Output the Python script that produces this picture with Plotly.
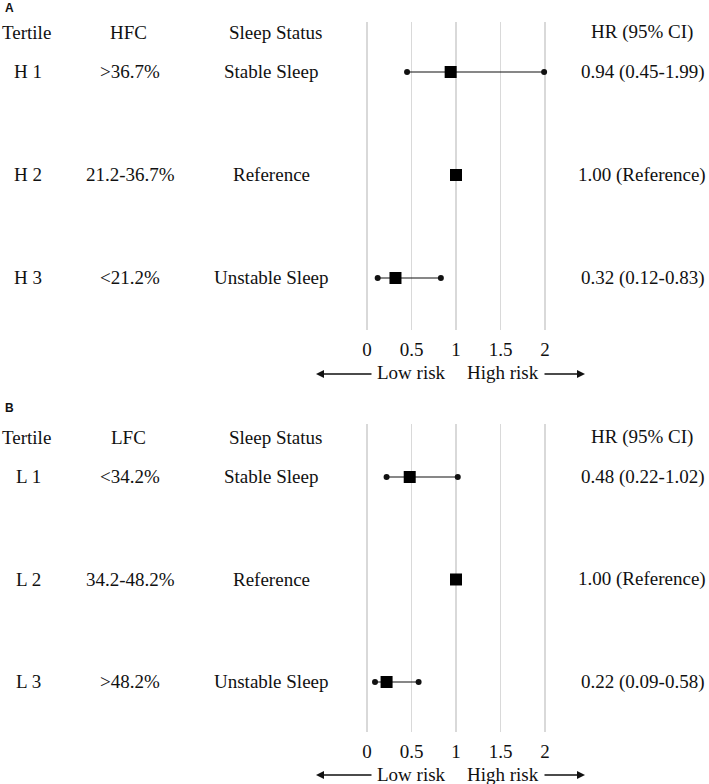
import plotly.graph_objects as go

W, H = 709, 784

# ---------------- data ----------------
tertile_a = ["H 1", "H 2", "H 3"]
hfc = [">36.7%", "21.2-36.7%", "<21.2%"]
status_a = ["Stable Sleep", "Reference", "Unstable Sleep"]
hr_a = [0.94, 1.00, 0.32]
lo_a = [0.45, None, 0.12]
hi_a = [1.99, None, 0.83]
hrtxt_a = ["0.94 (0.45-1.99)", "1.00 (Reference)", "0.32 (0.12-0.83)"]

tertile_b = ["L 1", "L 2", "L 3"]
lfc = ["<34.2%", "34.2-48.2%", ">48.2%"]
status_b = ["Stable Sleep", "Reference", "Unstable Sleep"]
hr_b = [0.48, 1.00, 0.22]
lo_b = [0.22, None, 0.09]
hi_b = [1.02, None, 0.58]
hrtxt_b = ["0.48 (0.22-1.02)", "1.00 (Reference)", "0.22 (0.09-0.58)"]

rows = [1, 2, 3]
tick_vals = [0, 0.5, 1, 1.5, 2]
tick_text = ["0", "0.5", "1", "1.5", "2"]

FONT = "Liberation Serif, Times New Roman, serif"
FS = 19

def py(px):
    return 1 - px / H

def pxx(px):
    return px / W

fig = go.Figure()

def add_panel(hr, lo, hi, xa, ya):
    em = [0 if l is None else h - l for h, l in zip(hr, lo)]
    ep = [0 if u is None else u - h for h, u in zip(hr, hi)]
    # CI line
    fig.add_trace(go.Scatter(
        x=hr, y=rows, mode="markers", xaxis=xa, yaxis=ya,
        marker=dict(size=1, color="rgba(0,0,0,0)"),
        error_x=dict(type="data", symmetric=False, array=ep, arrayminus=em,
                     color="#111111", thickness=1.2, width=0),
        showlegend=False, hoverinfo="skip"))
    # whisker end dots
    dx, dy = [], []
    for r, l, u in zip(rows, lo, hi):
        if l is not None:
            dx += [l, u]
            dy += [r, r]
    fig.add_trace(go.Scatter(
        x=dx, y=dy, mode="markers", xaxis=xa, yaxis=ya,
        marker=dict(symbol="circle", size=6, color="#111111"),
        showlegend=False, hoverinfo="skip"))
    # point estimates
    fig.add_trace(go.Scatter(
        x=hr, y=rows, mode="markers", xaxis=xa, yaxis=ya,
        marker=dict(symbol="square", size=12, color="#000000"),
        showlegend=False, hoverinfo="skip"))

add_panel(hr_a, lo_a, hi_a, "x", "y")
add_panel(hr_b, lo_b, hi_b, "x2", "y2")

xrange = [-367 / 89, (W - 367) / 89]
xcommon = dict(range=xrange, domain=[0, 1], tickvals=tick_vals, ticktext=tick_text,
               showgrid=True, gridcolor="#d9d9d9", gridwidth=1.5, zeroline=False,
               showline=False, ticks="", fixedrange=True, ticklabelstandoff=6,
               tickfont=dict(family=FONT, size=FS, color="#111111"))

fig.update_layout(
    width=W, height=H, margin=dict(l=0, r=0, t=0, b=0),
    paper_bgcolor="white", plot_bgcolor="white", showlegend=False,
    xaxis=dict(**xcommon, anchor="y"),
    xaxis2=dict(**xcommon, anchor="y2"),
    yaxis=dict(domain=[py(330), py(22)], range=[3.505, 0.5146], visible=False,
               anchor="x", fixedrange=True),
    yaxis2=dict(domain=[py(732), py(424)], range=[3.488, 0.483], visible=False,
                anchor="x2", fixedrange=True),
)

ann = []

def txt(text, x, y, yref="paper", size=FS, family=FONT, xanchor="center", bold=False):
    ann.append(dict(text=("<b>%s</b>" % text) if bold else text,
                    x=x, y=y, xref="paper", yref=yref, showarrow=False,
                    xanchor=xanchor, yanchor="middle",
                    font=dict(family=family, size=size, color="#111111")))

col_x = {"tert": 28, "fc": 130, "status": 271, "hr": 642}

def panel_text(label, label_y, header_y, fc_name, tert, fc, status, hrtxt, yref,
               arrow_y):
    txt(label, pxx(3), py(label_y), size=12, family="Arial, Liberation Sans, sans-serif",
        xanchor="left", bold=True)
    txt("Tertile", pxx(26), py(header_y))
    txt(fc_name, pxx(128), py(header_y))
    txt("Sleep Status", pxx(275), py(header_y))
    txt("HR (95% CI)", pxx(642), py(header_y))
    for r, t, f, s, h in zip(rows, tert, fc, status, hrtxt):
        txt(t, pxx(col_x["tert"]), r, yref=yref)
        txt(f, pxx(col_x["fc"]), r, yref=yref)
        txt(s, pxx(col_x["status"]), r, yref=yref)
        txt(h, pxx(col_x["hr"]), r, yref=yref)
    txt("Low risk", pxx(411), py(arrow_y))
    txt("High risk", pxx(503), py(arrow_y))
    # arrows
    ann.append(dict(text="", x=pxx(316), y=py(arrow_y + 1), xref="paper", yref="paper",
                    ax=57, ay=0, showarrow=True, arrowhead=2, arrowsize=1,
                    arrowwidth=1.6, arrowcolor="#111111"))
    ann.append(dict(text="", x=pxx(585), y=py(arrow_y + 1), xref="paper", yref="paper",
                    ax=-42, ay=0, showarrow=True, arrowhead=2, arrowsize=1,
                    arrowwidth=1.6, arrowcolor="#111111"))

panel_text("A", 8, 32, "HFC", tertile_a, hfc, status_a, hrtxt_a, "y", 373)
panel_text("B", 408, 437, "LFC", tertile_b, lfc, status_b, hrtxt_b, "y2", 774)

fig.update_layout(annotations=ann)
fig.write_html("out.html",
               config={"displayModeBar": False, "staticPlot": True},
               post_script=["document.body.style.margin='0';"
                            "document.body.style.overflow='hidden';"])
